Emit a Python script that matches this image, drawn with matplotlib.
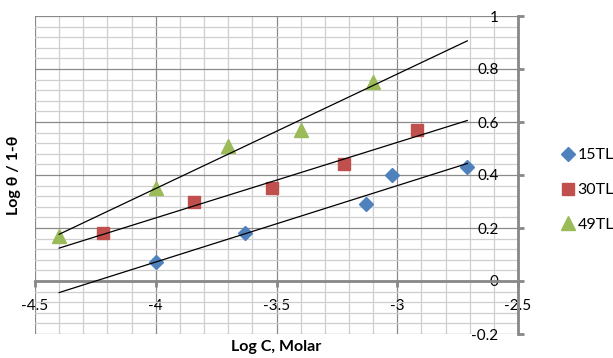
import numpy as np
import matplotlib.pyplot as plt
from matplotlib.ticker import MultipleLocator, FixedLocator, FixedFormatter

plt.rcParams['font.family'] = ['Lato', 'DejaVu Sans']

x_15 = [-4.00, -3.63, -3.13, -3.02, -2.71]
y_15 = [0.07, 0.18, 0.29, 0.40, 0.43]
x_30 = [-4.22, -3.84, -3.52, -3.22, -2.92]
y_30 = [0.18, 0.30, 0.35, 0.44, 0.57]
x_49 = [-4.40, -4.00, -3.70, -3.40, -3.10]
y_49 = [0.17, 0.35, 0.51, 0.57, 0.75]

names = ['15TL', '30TL', '49TL']
xticks = [-4.5, -4, -3.5, -3, -2.5]
xtick_labels = ['-4.5', '-4', '-3.5', '-3', '-2.5']
yticks = [-0.2, 0, 0.2, 0.4, 0.6, 0.8, 1]
ytick_labels = ['-0.2', '0', '0.2', '0.4', '0.6', '0.8', '1']

series = [
    (x_15, y_15, 'D', '#4F81BD', 7.5),
    (x_30, y_30, 's', '#C0504D', 9),
    (x_49, y_49, '^', '#9BBB59', 10),
]

fig = plt.figure(figsize=(6.13, 3.58), dpi=100)
ax = fig.add_axes([35 / 613, 24 / 358, 483 / 613, 318 / 358])

ax.set_xlim(-4.5, -2.5)
ax.set_ylim(-0.2, 1)

# trendline span covers all data
x_lo = min(min(x_15), min(x_30), min(x_49))
x_hi = max(max(x_15), max(x_30), max(x_49))
xs = np.array([x_lo, x_hi])

for (x, y, mk, col, ms), name in zip(series, names):
    ax.plot(x, y, linestyle='none', marker=mk, color=col, markersize=ms,
            label=name, zorder=3)
    m, c = np.polyfit(x, y, 1)
    ax.plot(xs, m * xs + c, color='black', linewidth=0.9, zorder=4)

# grid
ax.xaxis.set_minor_locator(MultipleLocator(0.1))
ax.yaxis.set_minor_locator(MultipleLocator(0.04))
ax.grid(which='minor', color='#cfcfcf', linewidth=0.9, zorder=0)
ax.grid(which='major', color='#8a8a8a', linewidth=0.9, zorder=1)
ax.set_axisbelow(True)

# axes crossing like the excel chart
for s in ['top', 'right']:
    ax.spines[s].set_visible(False)
ax.spines['bottom'].set_position(('data', 0))
ax.spines['left'].set_position(('data', -2.5))
for s in ['bottom', 'left']:
    ax.spines[s].set_color('#888888')
    ax.spines[s].set_linewidth(2.0)
    ax.spines[s].set_zorder(2)

ax.xaxis.set_major_locator(FixedLocator(xticks))
ax.xaxis.set_major_formatter(FixedFormatter(xtick_labels))
ax.yaxis.set_major_locator(FixedLocator(yticks))
ax.yaxis.set_major_formatter(FixedFormatter(ytick_labels))
ax.tick_params(axis='x', which='major', direction='out', length=4, width=2,
               color='#888888', labelsize=11, pad=9)
ax.tick_params(axis='y', which='major', direction='in', length=4, width=2,
               color='#888888', labelsize=11, pad=14)
ax.tick_params(which='minor', length=0)

fig.text(276 / 613, 1 - 347 / 358, 'Log C, Molar', ha='center', va='center',
         fontsize=11.5, fontweight='bold')
fig.text(14 / 613, 1 - 175 / 358, 'Log θ / 1-θ', ha='center', va='center',
         rotation=90, fontsize=11.5, fontweight='bold')

handles, labels = ax.get_legend_handles_labels()
fig.legend(handles, labels, loc='center left', bbox_to_anchor=(555 / 613, 1 - 190 / 358),
           frameon=False, fontsize=11.5, handlelength=0.8, handletextpad=0.2,
           labelspacing=1.3, borderaxespad=0)

fig.savefig('out.png', dpi=100)
